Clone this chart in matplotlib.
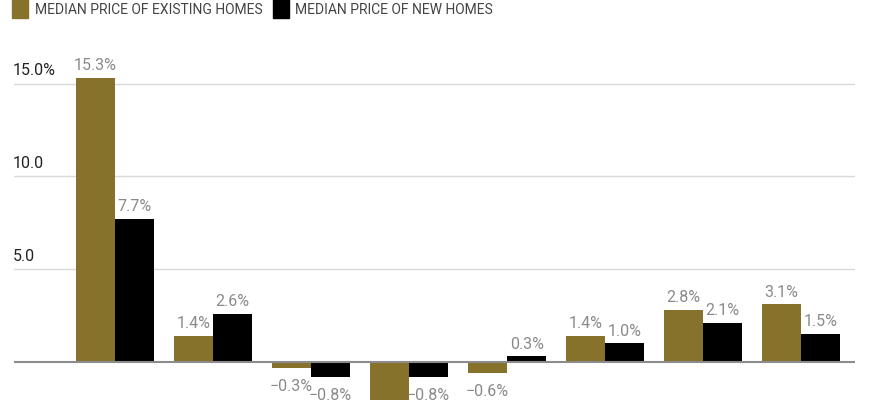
import numpy as np
import matplotlib.pyplot as plt
from matplotlib.patches import Rectangle
from matplotlib import transforms

plt.rcParams['font.family'] = ['Roboto', 'DejaVu Sans']

# one group per period, no category labels visible in the crop
groups = np.arange(8)
existing = [15.3, 1.4, -0.3, -2.6, -0.6, 1.4, 2.8, 3.1]
new_homes = [7.7, 2.6, -0.8, -0.8, 0.3, 1.0, 2.1, 1.5]
existing_labels = ["15.3%", "1.4%", "\u22120.3%", "", "\u22120.6%", "1.4%", "2.8%", "3.1%"]
new_labels = ["7.7%", "2.6%", "\u22120.8%", "\u22120.8%", "0.3%", "1.0%", "2.1%", "1.5%"]
yticks = [5, 10, 15]
ytick_labels = ["5.0", "10.0", "15.0%"]

gold = "#86722b"
black = "#000000"
label_gray = "#8a8a8a"

fig = plt.figure(figsize=(8.7, 4.0), dpi=100)
ax = fig.add_axes([14 / 870, 0, 841 / 870, 1])

w = 0.4
ax.bar(groups - w / 2, existing, w, color=gold, zorder=3)
ax.bar(groups + w / 2, new_homes, w, color=black, zorder=3)

def put_labels(xs, vals, texts):
    for x, v, t in zip(xs, vals, texts):
        if v >= 0:
            ax.annotate(t, (x, v), xytext=(0, 3.5), textcoords="offset points",
                        ha="center", va="bottom", color=label_gray, fontsize=11.5)
        else:
            ax.annotate(t, (x, v), xytext=(0, -8), textcoords="offset points",
                        ha="center", va="top", color=label_gray, fontsize=11.5)

put_labels(groups - w / 2, existing, existing_labels)
put_labels(groups + w / 2, new_homes, new_labels)

ax.set_xlim(-1.03, 7.55)
ax.set_ylim(-2.05, 19.5)

for y in yticks:
    ax.axhline(y, color="#d9d9d9", lw=1, zorder=1)
ax.axhline(0, color="#8c8c8c", lw=1.5, zorder=4)

trans = transforms.blended_transform_factory(ax.transAxes, ax.transData)
for y, t in zip(yticks, ytick_labels):
    ax.annotate(t, (0, y), xycoords=trans, xytext=(-1, 4), textcoords="offset points",
                ha="left", va="bottom", color="#222222", fontsize=11.5)

ax.axis("off")

# legend at top left
fig.patches.append(Rectangle((12 / 870, 1 - 18 / 400), 16 / 870, 19 / 400,
                             transform=fig.transFigure, color=gold))
fig.text(35 / 870, 1 - 10 / 400, "MEDIAN PRICE OF EXISTING HOMES", ha="left", va="center",
         color="#444444", fontsize=10)
fig.patches.append(Rectangle((273 / 870, 1 - 18 / 400), 16 / 870, 19 / 400,
                             transform=fig.transFigure, color=black))
fig.text(295 / 870, 1 - 10 / 400, "MEDIAN PRICE OF NEW HOMES", ha="left", va="center",
         color="#444444", fontsize=10)

fig.savefig("out.png", dpi=100)
